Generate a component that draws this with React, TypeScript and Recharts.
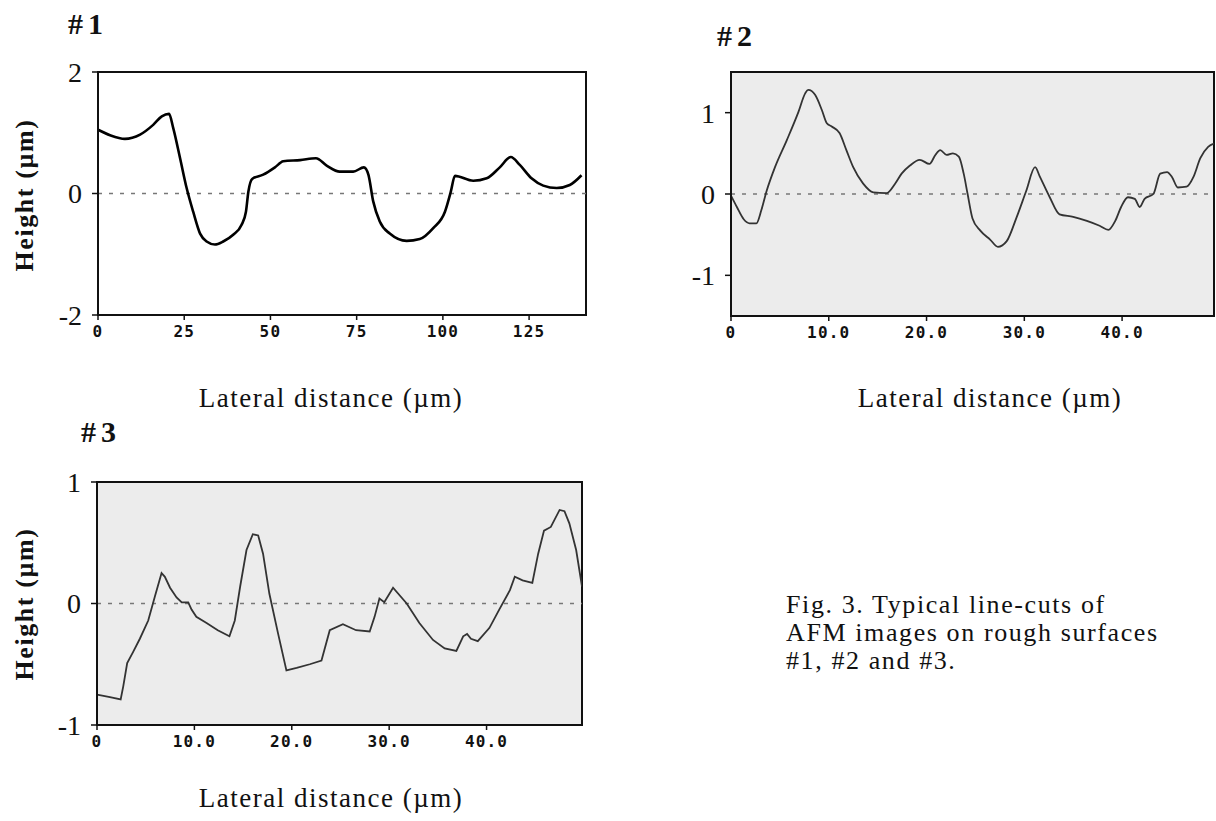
import React from "react";
import {
  CartesianGrid,
  Line,
  LineChart,
  ReferenceArea,
  ReferenceLine,
  XAxis,
  YAxis,
} from "recharts";

// #1 line-cut: lateral distance (um) and height (um)
const cut1Dist = [
  0, 3.5, 7.8, 12.2, 16, 18.5, 20.6, 21.8, 23.8, 25.7, 27.6, 29.6, 31.5, 33.9,
  36.3, 39.2, 41.6, 42.9, 43.6, 44.7, 47.9, 51.3, 53.7, 58.6, 63.2, 66.3, 70.1,
  74, 77.1, 78.4, 79.8, 81.7, 84.6, 89.5, 93.3, 97.2, 100.6, 102.3, 103.5,
  108.8, 112.7, 116.5, 119.7, 122.3, 125.7, 129.1, 133, 136.8, 140.2,
];
const cut1Height = [
  1.05, 0.96, 0.9, 0.97, 1.13, 1.27, 1.31, 1.08, 0.58, 0.09, -0.3, -0.66, -0.79,
  -0.84, -0.79, -0.68, -0.52, -0.3, 0.03, 0.24, 0.31, 0.43, 0.53, 0.55, 0.58,
  0.46, 0.36, 0.36, 0.43, 0.31, -0.13, -0.46, -0.66, -0.78, -0.75, -0.57, -0.3,
  0.03, 0.29, 0.21, 0.25, 0.43, 0.6, 0.47, 0.25, 0.13, 0.09, 0.14, 0.3,
];

// #2 line-cut
const cut2Dist = [
  0, 0.6, 1.3, 1.9, 2.6, 3.1, 3.65, 4.5, 5.7, 6.9, 7.6, 7.9, 8.6, 9.3, 9.8,
  10.3, 11.1, 11.8, 12.5, 13.5, 14.55, 15.9, 16.8, 17.45, 18.3, 19.3, 20.3,
  20.9, 21.4, 22.05, 22.7, 23.3, 23.8, 24.2, 24.7, 25.5, 26.5, 27.3, 28.2, 29.2,
  30.2, 31.1, 31.6, 32.6, 33.6, 35, 36.4, 37.7, 38.6, 39.3, 39.9, 40.6, 41.3,
  41.8, 42.3, 43.2, 43.9, 44.6, 45.1, 45.7, 46.6, 47.3, 48, 48.8, 49.4,
];
const cut2Height = [
  -0.02, -0.16, -0.31, -0.36, -0.36, -0.2, 0.04, 0.33, 0.66, 1.01, 1.24, 1.28,
  1.22, 1.03, 0.87, 0.83, 0.75, 0.54, 0.33, 0.13, 0.02, 0.01, 0.13, 0.25, 0.35,
  0.42, 0.37, 0.48, 0.54, 0.48, 0.5, 0.46, 0.25, 0.0, -0.3, -0.45, -0.56,
  -0.65, -0.58, -0.29, 0.04, 0.33, 0.21, -0.04, -0.25, -0.28, -0.33, -0.39,
  -0.44, -0.33, -0.16, -0.04, -0.06, -0.16, -0.06, 0.0, 0.25, 0.27, 0.21, 0.08,
  0.09, 0.21, 0.44, 0.58, 0.62,
];

// #3 line-cut
const cut3Dist = [
  0, 1.33, 2.43, 2.7, 3.1, 3.7, 4.4, 5.26, 5.95, 6.63, 6.97, 7.5, 8.17, 8.7,
  9.37, 9.71, 10.2, 11.25, 12.4, 13.6, 14.15, 14.7, 15.35, 16.0, 16.55, 17.05,
  17.7, 18.6, 19.45, 20.5, 21.85, 23.05, 23.9, 25.25, 26.6, 28.0, 28.5, 29.0,
  29.5, 30.4, 31.8, 33.1, 34.5, 35.7, 36.9, 37.6, 38.0, 38.4, 39.1, 40.3, 41.3,
  42.4, 42.9, 43.7, 44.7, 45.3, 45.9, 46.6, 47.5, 48.0, 48.5, 49.2, 49.8,
];
const cut3Height = [
  -0.75, -0.77, -0.79, -0.68, -0.49, -0.4, -0.29, -0.14, 0.06, 0.25, 0.22,
  0.13, 0.05, 0.01, 0.01, -0.05, -0.11, -0.16, -0.22, -0.27, -0.14, 0.14, 0.44,
  0.57, 0.56, 0.41, 0.08, -0.25, -0.55, -0.53, -0.5, -0.47, -0.22, -0.17,
  -0.22, -0.23, -0.11, 0.04, 0.01, 0.13, 0.0, -0.16, -0.3, -0.37, -0.39,
  -0.27, -0.25, -0.29, -0.31, -0.2, -0.05, 0.11, 0.22, 0.19, 0.17, 0.41, 0.6,
  0.63, 0.77, 0.76, 0.66, 0.44, 0.14,
];

const ticks1X = [0, 25, 50, 75, 100, 125];
const ticks1Y = [-2, 0, 2];
const ticksNX = [0, 10, 20, 30, 40];
const ticksNY = [-1, 0, 1];

const toRows = (xs: number[], ys: number[]) =>
  xs.map((x, i) => ({ x, h: ys[i] }));

const serif = "'Liberation Serif', 'Times New Roman', serif";
const tickFont = {
  fontFamily: "'DejaVu Sans Mono', monospace",
  fontWeight: 700,
  fontSize: 16,
  letterSpacing: 1.2,
  fill: "#111",
};
const yTickFont = { fontFamily: serif, fontSize: 28, fill: "#111" };

type CutProps = {
  left: number;
  top: number;
  width: number;
  height: number;
  margin: { top: number; right: number; bottom: number; left: number };
  yWidth: number;
  rows: { x: number; h: number }[];
  xMax: number;
  xTicks: number[];
  yDomain: [number, number];
  yTicks: number[];
  fmt: (v: number) => string;
  bg: string;
  color: string;
  lineWidth: number;
  curve: "monotone" | "linear";
};

function Cut(p: CutProps) {
  return (
    <div style={{ position: "absolute", left: p.left, top: p.top }}>
      <LineChart width={p.width} height={p.height} data={p.rows} margin={p.margin}>
        <CartesianGrid horizontal={false} vertical={false} fill={p.bg} />
        <XAxis
          type="number"
          dataKey="x"
          domain={[0, p.xMax]}
          ticks={p.xTicks}
          tickFormatter={p.fmt}
          allowDataOverflow
          height={40}
          tick={tickFont}
          tickSize={5}
          tickMargin={6}
          axisLine={{ stroke: "#111", strokeWidth: 2 }}
          tickLine={{ stroke: "#111", strokeWidth: 1.5 }}
        />
        <YAxis
          type="number"
          domain={p.yDomain}
          ticks={p.yTicks}
          allowDataOverflow
          width={p.yWidth}
          tick={yTickFont}
          tickSize={6}
          tickMargin={10}
          axisLine={{ stroke: "#111", strokeWidth: 2 }}
          tickLine={{ stroke: "#111", strokeWidth: 1.5 }}
        />
        <ReferenceLine y={0} stroke="#777" strokeWidth={1.5} strokeDasharray="4 7" />
        <ReferenceArea
          x1={0}
          x2={p.xMax}
          y1={p.yDomain[0]}
          y2={p.yDomain[1]}
          fill="none"
          stroke="#111"
          strokeWidth={2}
          ifOverflow="visible"
        />
        <Line
          type={p.curve}
          dataKey="h"
          stroke={p.color}
          strokeWidth={p.lineWidth}
          dot={false}
          isAnimationActive={false}
        />
      </LineChart>
    </div>
  );
}

const abs = (s: React.CSSProperties): React.CSSProperties => ({
  position: "absolute",
  fontFamily: serif,
  color: "#111",
  lineHeight: 1,
  whiteSpace: "nowrap",
  ...s,
});

export default function App() {
  const intFmt = (v: number) => String(v);
  const decFmt = (v: number) => (v === 0 ? "0" : v.toFixed(1));
  const xLabel = { fontSize: 27, letterSpacing: 1.5, transform: "translateX(-50%)" };
  const yLabel = {
    fontSize: 26,
    fontWeight: 700,
    letterSpacing: 1.6,
    transform: "translate(-50%, -50%) rotate(-90deg)",
  };
  return (
    <div
      style={{
        position: "absolute",
        left: 0,
        top: 0,
        width: 1216,
        height: 821,
        background: "#fff",
        overflow: "hidden",
      }}
    >
      <Cut
        left={0}
        top={0}
        width={600}
        height={360}
        margin={{ top: 72, right: 14, bottom: 5, left: 0 }}
        yWidth={98}
        rows={toRows(cut1Dist, cut1Height)}
        xMax={141.5}
        xTicks={ticks1X}
        yDomain={[-2, 2]}
        yTicks={ticks1Y}
        fmt={intFmt}
        bg="#fff"
        color="#000"
        lineWidth={2.6}
        curve="monotone"
      />
      <Cut
        left={640}
        top={0}
        width={576}
        height={360}
        margin={{ top: 72, right: 2, bottom: 4, left: 0 }}
        yWidth={91}
        rows={toRows(cut2Dist, cut2Height)}
        xMax={49.4}
        xTicks={ticksNX}
        yDomain={[-1.5, 1.5]}
        yTicks={ticksNY}
        fmt={decFmt}
        bg="#ececec"
        color="#333"
        lineWidth={1.8}
        curve="monotone"
      />
      <Cut
        left={0}
        top={410}
        width={600}
        height={360}
        margin={{ top: 72, right: 18, bottom: 5, left: 0 }}
        yWidth={97}
        rows={toRows(cut3Dist, cut3Height)}
        xMax={49.8}
        xTicks={ticksNX}
        yDomain={[-1, 1]}
        yTicks={ticksNY}
        fmt={decFmt}
        bg="#ececec"
        color="#333"
        lineWidth={1.8}
        curve="linear"
      />

      <div style={abs({ left: 68, top: 9, fontSize: 30, fontWeight: 700, letterSpacing: 5 })}>#1</div>
      <div style={abs({ left: 717, top: 21, fontSize: 30, fontWeight: 700, letterSpacing: 5 })}>#2</div>
      <div style={abs({ left: 81, top: 417, fontSize: 30, fontWeight: 700, letterSpacing: 5 })}>#3</div>

      <div style={abs({ left: 25, top: 195, ...yLabel })}>Height (µm)</div>
      <div style={abs({ left: 25, top: 604, ...yLabel })}>Height (µm)</div>

      <div style={abs({ left: 331, top: 385, ...xLabel })}>Lateral distance (µm)</div>
      <div style={abs({ left: 990, top: 385, ...xLabel })}>Lateral distance (µm)</div>
      <div style={abs({ left: 331, top: 785, ...xLabel })}>Lateral distance (µm)</div>

      <div style={abs({ left: 786, top: 591, fontSize: 26, lineHeight: "28px", letterSpacing: 1.6 })}>
        Fig. 3. Typical line-cuts of
        <br />
        AFM images on rough surfaces
        <br />
        #1, #2 and #3.
      </div>
    </div>
  );
}
